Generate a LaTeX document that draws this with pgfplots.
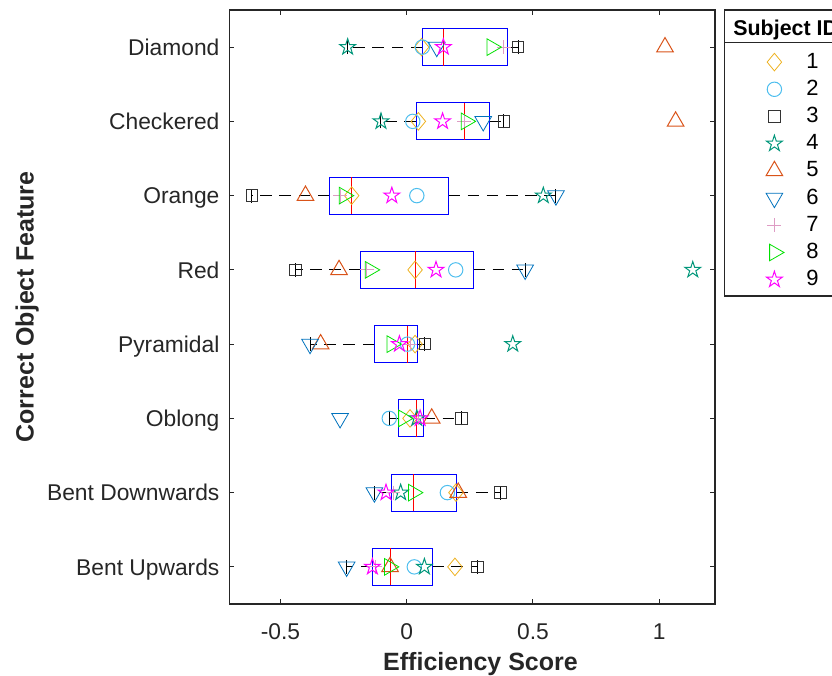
\documentclass[border=0pt]{standalone}
\usepackage{pgfplots}
\pgfplotsset{compat=1.18}
\usepgfplotslibrary{statistics}
\usepackage{fontspec}
\setmainfont{Liberation Sans}

\definecolor{axgray}{HTML}{262626}
\definecolor{c1}{HTML}{EDB120}
\definecolor{c2}{HTML}{4DBEEE}
\definecolor{c3}{HTML}{333333}
\definecolor{c4}{HTML}{00967A}
\definecolor{c5}{HTML}{D95319}
\definecolor{c6}{HTML}{0072BD}
\definecolor{c7}{HTML}{DE9CC4}
\definecolor{c8}{HTML}{00E000}
\definecolor{c9}{HTML}{FF00FF}

\pgfdeclareplotmark{pentagram}{%
  \pgfpathmoveto{\pgfpointpolar{90}{\pgfplotmarksize}}%
  \pgfpathlineto{\pgfpointpolar{126}{0.382\pgfplotmarksize}}%
  \pgfpathlineto{\pgfpointpolar{162}{\pgfplotmarksize}}%
  \pgfpathlineto{\pgfpointpolar{198}{0.382\pgfplotmarksize}}%
  \pgfpathlineto{\pgfpointpolar{234}{\pgfplotmarksize}}%
  \pgfpathlineto{\pgfpointpolar{270}{0.382\pgfplotmarksize}}%
  \pgfpathlineto{\pgfpointpolar{306}{\pgfplotmarksize}}%
  \pgfpathlineto{\pgfpointpolar{342}{0.382\pgfplotmarksize}}%
  \pgfpathlineto{\pgfpointpolar{18}{\pgfplotmarksize}}%
  \pgfpathlineto{\pgfpointpolar{54}{0.382\pgfplotmarksize}}%
  \pgfpathclose
  \pgfusepathqstroke
}

\pgfplotsset{
  subj/.style={only marks,
    legend image code/.code={\path[draw=none,fill=none] (0pt,-3pt) rectangle (40.65pt,3pt); \draw[##1] plot coordinates {(24.65pt,0pt)};}},
  bx/.style={forget plot,
    boxplot/box extend=0.5,
    boxplot/whisker extend=0.19,
    boxplot/draw/box/.code={\draw[blue, line width=0.5pt] (boxplot box cs:\pgfplotsboxplotvalue{lower quartile},0) rectangle (boxplot box cs:\pgfplotsboxplotvalue{upper quartile},1);},
    boxplot/draw/median/.code={\draw[red, line width=0.5pt] (boxplot box cs:\pgfplotsboxplotvalue{median},0) -- (boxplot box cs:\pgfplotsboxplotvalue{median},1);},
    boxplot/draw/lower whisker/.code={\draw[black, line width=0.5pt, dash pattern=on 5.8pt off 3.8pt] (boxplot cs:\pgfplotsboxplotvalue{lower quartile}) -- (boxplot cs:\pgfplotsboxplotvalue{lower whisker}); \draw[black, line width=0.5pt] (boxplot whisker cs:\pgfplotsboxplotvalue{lower whisker},0) -- (boxplot whisker cs:\pgfplotsboxplotvalue{lower whisker},1);},
    boxplot/draw/upper whisker/.code={\draw[black, line width=0.5pt, dash pattern=on 5.8pt off 3.8pt] (boxplot cs:\pgfplotsboxplotvalue{upper quartile}) -- (boxplot cs:\pgfplotsboxplotvalue{upper whisker}); \draw[black, line width=0.5pt] (boxplot whisker cs:\pgfplotsboxplotvalue{upper whisker},0) -- (boxplot whisker cs:\pgfplotsboxplotvalue{upper whisker},1);},
  },
}

\begin{document}
\begin{tikzpicture}
\path[use as bounding box] (-114.75pt,-36pt) rectangle (301.25pt,302pt);
\clip (-114.75pt,-36pt) rectangle (301.25pt,302pt);
\begin{axis}[
  scale only axis, width=242.75pt, height=297pt,
  xmin=-0.702, xmax=1.221, ymin=0.5, ymax=8.5,
  xtick={-0.5,0,0.5,1}, xticklabels={-0.5,0,0.5,1},
  ytick={1,2,3,4,5,6,7,8},
  yticklabels={Bent Upwards,Bent Downwards,Oblong,Pyramidal,Red,Orange,Checkered,Diamond},
  tick align=inside, major tick length=2.5pt,
  axis line style={draw=axgray, line width=0.6pt},
  every tick/.style={draw=axgray, line width=0.5pt},
  ticklabel style={font=\fontsize{11.4}{13}\selectfont, text=axgray},
  xticklabel style={yshift=-6.3pt},
  yticklabel style={anchor=base east, xshift=-1.5pt, yshift=-4.1pt},
  xlabel={Efficiency Score}, ylabel={Correct Object Feature},
  label style={font=\bfseries\fontsize{12.5}{14}\selectfont, text=axgray},
  xlabel style={at={(axis description cs:0.517,-0.1128)}, anchor=base, inner sep=0pt},
  ylabel style={at={(axis description cs:-0.4418,0.5)}, anchor=north, inner sep=0pt},
  legend style={at={(1.02,0.9359)}, anchor=north west, draw=none, fill=none,
    inner sep=0pt, row sep=0pt, column sep=0pt,
    font=\fontsize{11}{13}\selectfont,
    nodes={inner sep=0pt, minimum height=13.6pt, text=black}},
  legend cell align=left,
  mark options={solid, line width=0.5pt},
]
% boxplots (lower whisker, lower quartile, median, upper quartile, upper whisker)
\addplot[bx, boxplot prepared={draw position=8, lower whisker=-0.234, lower quartile=0.062, median=0.145, upper quartile=0.400, upper whisker=0.441}] coordinates {};
\addplot[bx, boxplot prepared={draw position=7, lower whisker=-0.102, lower quartile=0.037, median=0.228, upper quartile=0.327, upper whisker=0.385}] coordinates {};
\addplot[bx, boxplot prepared={draw position=6, lower whisker=-0.613, lower quartile=-0.306, median=-0.218, upper quartile=0.165, upper whisker=0.591}] coordinates {};
\addplot[bx, boxplot prepared={draw position=5, lower whisker=-0.441, lower quartile=-0.184, median=0.033, upper quartile=0.264, upper whisker=0.469}] coordinates {};
\addplot[bx, boxplot prepared={draw position=4, lower whisker=-0.383, lower quartile=-0.129, median=0.003, upper quartile=0.042, upper whisker=0.072}] coordinates {};
\addplot[bx, boxplot prepared={draw position=3, lower whisker=-0.069, lower quartile=-0.033, median=0.040, upper quartile=0.066, upper whisker=0.218}] coordinates {};
\addplot[bx, boxplot prepared={draw position=2, lower whisker=-0.128, lower quartile=-0.061, median=0.026, upper quartile=0.198, upper whisker=0.372}] coordinates {};
\addplot[bx, boxplot prepared={draw position=1, lower whisker=-0.238, lower quartile=-0.137, median=-0.066, upper quartile=0.101, upper whisker=0.280}] coordinates {};

% subjects: rows 1 Bent Upwards ... 8 Diamond
\addplot[subj, color=c1, mark=diamond, mark size=4.4pt, mark options={xscale=1.1}] coordinates {(0.191,1) (0.195,2) (0.013,3) (0.033,4) (0.033,5) (-0.218,6) (0.046,7) (0.059,8)};
\addlegendentry{1}
\addplot[subj, color=c2, mark=o, mark size=3.6pt] coordinates {(0.030,1) (0.161,2) (-0.069,3) (0.003,4) (0.194,5) (0.040,6) (0.024,7) (0.062,8)};
\addlegendentry{2}
\addplot[subj, color=c3, mark=square, mark size=2.9pt] coordinates {(0.280,1) (0.372,2) (0.218,3) (0.072,4) (-0.441,5) (-0.613,6) (0.385,7) (0.441,8)};
\addlegendentry{3}
\addplot[subj, color=c4, mark=pentagram, mark size=4.2pt] coordinates {(0.070,1) (-0.024,2) (0.040,3) (0.420,4) (1.133,5) (0.541,6) (-0.102,7) (-0.234,8)};
\addlegendentry{4}
\addplot[subj, color=c5, mark=triangle, mark size=4.8pt] coordinates {(-0.066,1) (0.204,2) (0.099,3) (-0.341,4) (-0.268,5) (-0.401,6) (1.065,7) (1.023,8)};
\addlegendentry{5}
\addplot[subj, color=c6, mark=triangle, mark size=4.8pt, mark options={rotate=180}] coordinates {(-0.238,1) (-0.128,2) (-0.264,3) (-0.383,4) (0.469,5) (0.591,6) (0.303,7) (0.119,8)};
\addlegendentry{6}
\addplot[subj, color=c7, mark=+, mark size=3.5pt] coordinates {(-0.125,1) (-0.053,2) (0.046,3) (0.013,4) (-0.158,5) (-0.264,6) (0.228,7) (0.385,8)};
\addlegendentry{7}
\addplot[subj, color=c8, mark=triangle, mark size=4.8pt, mark options={rotate=-90}] coordinates {(-0.069,1) (0.026,2) (-0.013,3) (-0.059,4) (-0.145,5) (-0.248,6) (0.235,7) (0.337,8)};
\addlegendentry{8}
\addplot[subj, color=c9, mark=pentagram, mark size=4.2pt] coordinates {(-0.136,1) (-0.082,2) (0.053,3) (-0.029,4) (0.116,5) (-0.059,6) (0.142,7) (0.145,8)};
\addlegendentry{9}
\end{axis}
% legend frame, title and separator
\draw[axgray, line width=0.6pt] (247.6pt,154pt) rectangle (320pt,297pt);
\draw[axgray, line width=0.6pt] (247.6pt,280.85pt) -- (320pt,280.85pt);
\node[anchor=base west, inner sep=0pt, font=\bfseries\fontsize{10.7}{13}\selectfont] at (251.75pt,284pt) {Subject ID};
\end{tikzpicture}
\end{document}
